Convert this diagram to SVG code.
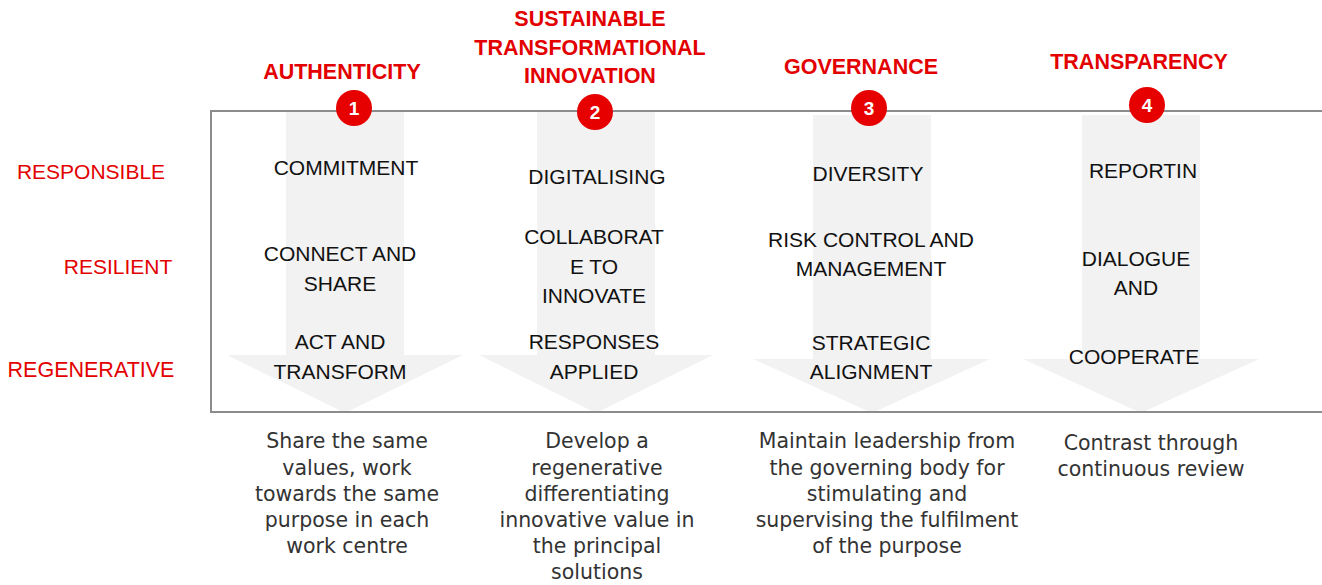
<svg xmlns="http://www.w3.org/2000/svg" width="1322" height="585" viewBox="0 0 1322 585">
<style>
.hd{font-family:"Liberation Sans",Arial,sans-serif;font-weight:bold;font-size:21.5px;fill:#e30000;text-anchor:middle}
.lv{font-family:"Liberation Sans",Arial,sans-serif;font-size:21px;fill:#e30000;text-anchor:middle}
.in{font-family:"Liberation Sans",Arial,sans-serif;font-size:21px;fill:#111;text-anchor:middle}
.ds{font-family:"DejaVu Sans",Verdana,sans-serif;font-size:20.5px;fill:#333;text-anchor:middle}
.arr{fill:#f2f2f2}
.bx{fill:none;stroke:#8c8c8c;stroke-width:2}
.bd{fill:#e60000}
.bn{font-family:"Liberation Sans",Arial,sans-serif;font-weight:bold;font-size:19px;fill:#fff;text-anchor:middle}
</style>
<rect width="1322" height="585" fill="#fff"/>
<g id="arrows">
<polygon class="arr" points="286,111 404,111 404,355 463,355 345,413 227,355 286,355"/>
<polygon class="arr" points="537,111 655,111 655,355 713,355 596,413 479,355 537,355"/>
<polygon class="arr" points="813,115 931,115 931,359 990,359 872,413 753,359 813,359"/>
<polygon class="arr" points="1082,115 1200,115 1200,359 1259,359 1141,413 1023,359 1082,359"/>
</g>
<g id="frame">
<path class="bx" d="M1322,111 H211 V412 H1322"/>
</g>
<g id="levels">
<text class="lv" x="91" y="179">RESPONSIBLE</text>
<text class="lv" x="118" y="274">RESILIENT</text>
<text class="lv" x="91" y="377" style="font-size:21.5px">REGENERATIVE</text>
</g>
<g id="col1">
<text class="hd" x="342" y="79">AUTHENTICITY</text>
<circle class="bd" cx="354" cy="108" r="18"/>
<text class="bn" x="354" y="115">1</text>
<text class="in" x="346" y="175">COMMITMENT</text>
<text class="in" x="340" y="261">CONNECT AND</text>
<text class="in" x="340" y="291">SHARE</text>
<text class="in" x="340" y="349">ACT AND</text>
<text class="in" x="340" y="379">TRANSFORM</text>
<text class="ds" x="347" y="448">Share the same</text>
<text class="ds" x="347" y="475">values, work</text>
<text class="ds" x="347" y="501">towards the same</text>
<text class="ds" x="347" y="527">purpose in each</text>
<text class="ds" x="347" y="553">work centre</text>
</g>
<g id="col2">
<text class="hd" x="590" y="26">SUSTAINABLE</text>
<text class="hd" x="590" y="55">TRANSFORMATIONAL</text>
<text class="hd" x="590" y="83">INNOVATION</text>
<circle class="bd" cx="595" cy="112" r="18"/>
<text class="bn" x="595" y="119">2</text>
<text class="in" x="597" y="184">DIGITALISING</text>
<text class="in" x="594" y="244">COLLABORAT</text>
<text class="in" x="594" y="274">E TO</text>
<text class="in" x="594" y="303">INNOVATE</text>
<text class="in" x="594" y="349">RESPONSES</text>
<text class="in" x="594" y="379">APPLIED</text>
<text class="ds" x="597" y="448">Develop a</text>
<text class="ds" x="597" y="475">regenerative</text>
<text class="ds" x="597" y="501">differentiating</text>
<text class="ds" x="597" y="527">innovative value in</text>
<text class="ds" x="597" y="553">the principal</text>
<text class="ds" x="597" y="579">solutions</text>
</g>
<g id="col3">
<text class="hd" x="861" y="74">GOVERNANCE</text>
<circle class="bd" cx="869" cy="108" r="18"/>
<text class="bn" x="869" y="115">3</text>
<text class="in" x="868" y="181">DIVERSITY</text>
<text class="in" x="871" y="247">RISK CONTROL AND</text>
<text class="in" x="871" y="276">MANAGEMENT</text>
<text class="in" x="871" y="350">STRATEGIC</text>
<text class="in" x="871" y="379">ALIGNMENT</text>
<text class="ds" x="887" y="448">Maintain leadership from</text>
<text class="ds" x="887" y="475">the governing body for</text>
<text class="ds" x="887" y="501">stimulating and</text>
<text class="ds" x="887" y="527">supervising the fulfilment</text>
<text class="ds" x="887" y="553">of the purpose</text>
</g>
<g id="col4">
<text class="hd" x="1139" y="69">TRANSPARENCY</text>
<circle class="bd" cx="1147" cy="105" r="18"/>
<text class="bn" x="1147" y="112">4</text>
<text class="in" x="1143" y="178">REPORTIN</text>
<text class="in" x="1136" y="266">DIALOGUE</text>
<text class="in" x="1136" y="295">AND</text>
<text class="in" x="1134" y="364">COOPERATE</text>
<text class="ds" x="1151" y="450">Contrast through</text>
<text class="ds" x="1151" y="476">continuous review</text>
</g>
</svg>
